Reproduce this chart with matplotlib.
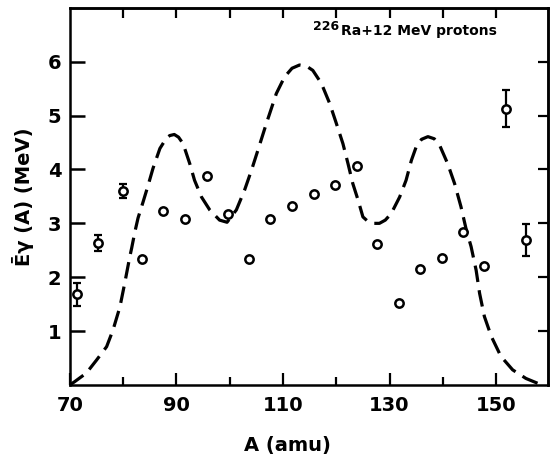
"""Mean gamma energy vs fragment mass, 226Ra + 12 MeV protons.
Points and curve read off the scanned figure."""
from matplotlib import pyplot as plt
from matplotlib.ticker import FixedLocator
import numpy as np

# measured points (open circles)
A_POINTS = [71.4, 75.3, 80.0, 83.6, 87.5, 91.6, 95.7, 99.6, 103.6, 107.5, 111.7,
            115.75, 119.8, 123.8, 127.6, 131.7, 135.75, 139.9, 143.75, 147.8,
            151.9, 155.7]
E_POINTS = [1.68, 2.64, 3.60, 2.33, 3.22, 3.09, 3.88, 3.18, 2.33, 3.09, 3.33,
            3.54, 3.72, 4.07, 2.62, 1.53, 2.15, 2.36, 2.84, 2.21, 5.13, 2.69]
E_ERR = [0.22, 0.15, 0.13, 0, 0, 0, 0, 0, 0, 0, 0,
         0, 0, 0, 0, 0, 0, 0, 0, 0, 0.35, 0.30]

# dashed calculated curve
CURVE_A = [70.0, 70.9, 73.1, 75.0, 76.9, 78.1, 79.4, 80.3, 81.25, 81.6, 82.2,
           82.8, 83.75, 84.7, 85.6, 86.9, 88.1, 88.75, 89.6, 90.4, 91.25, 92.5,
           93.4, 94.7, 96.25, 98.1, 99.5, 101.25, 102.8, 104.1, 105.3, 106.9,
           108.75, 110.3, 111.7, 113.1, 114.4, 115.6, 117.2, 118.75, 120.0,
           121.25, 122.2, 123.1, 124.1, 125.0, 126.0, 126.9, 128.1, 129.2,
           130.3, 131.9, 133.1, 134.1, 135.0, 136.0, 137.2, 138.4, 139.4,
           140.9, 142.2, 143.4, 144.4, 145.3, 146.25, 146.9, 147.8, 149.1,
           150.9, 153.1, 155.6, 157.8, 159.0]
CURVE_E = [0.0, 0.06, 0.22, 0.46, 0.71, 1.02, 1.45, 1.89, 2.38, 2.54, 2.84,
           3.10, 3.40, 3.71, 4.02, 4.39, 4.58, 4.63, 4.65, 4.60, 4.48, 4.11,
           3.80, 3.49, 3.25, 3.06, 3.02, 3.25, 3.62, 3.99, 4.36, 4.86,
           5.41, 5.72, 5.88, 5.94, 5.92, 5.84, 5.60, 5.23, 4.86,
           4.48, 4.11, 3.74, 3.43, 3.12, 3.03, 3.00, 3.00, 3.06,
           3.18, 3.49, 3.80, 4.17, 4.42, 4.56, 4.61, 4.57, 4.45,
           4.11, 3.74, 3.31, 2.88, 2.57, 2.13, 1.70, 1.27, 0.90,
           0.53, 0.28, 0.12, 0.03, 0.0]

X_MAJOR = [70, 90, 110, 130, 150]
X_MINOR = [80, 100, 120, 140]
X_TOP = [80, 90, 100, 110, 120, 130, 140, 150]
Y_TICKS = [1, 2, 3, 4, 5, 6]

fig = plt.figure(figsize=(5.5, 4.66), dpi=100)
ax = fig.add_axes([0.127, 0.174, 0.869, 0.809])

ax.plot(CURVE_A, CURVE_E, color='black', lw=2.3, dashes=(5.2, 2.6),
        dash_capstyle='butt')

err = np.array(E_ERR)
has_err = err > 0
a = np.array(A_POINTS)
e = np.array(E_POINTS)
ax.errorbar(a[has_err], e[has_err], yerr=err[has_err], fmt='none',
            ecolor='black', elinewidth=1.6, capsize=2.6, capthick=1.6)
ax.plot(a, e, 'o', ms=6, mfc='white', mec='black', mew=1.8, ls='none')

ax.set_xlim(70, 159.7)
ax.set_ylim(0, 7)
ax.xaxis.set_major_locator(FixedLocator(X_MAJOR))
ax.xaxis.set_minor_locator(FixedLocator(X_MINOR))
ax.yaxis.set_major_locator(FixedLocator(Y_TICKS))

for s in ax.spines.values():
    s.set_linewidth(1.8)

ax.tick_params(axis='x', which='major', direction='in', length=9, width=1.6,
               pad=8, labelsize=14)
ax.tick_params(axis='x', which='minor', direction='in', length=5.5, width=1.6)
ax.tick_params(axis='y', which='major', direction='in', length=11, width=1.8,
               pad=6, labelsize=14)
for lab in ax.get_xticklabels() + ax.get_yticklabels():
    lab.set_fontweight('bold')

# top and right ticks, shorter, no labels
top = ax.secondary_xaxis('top')
top.xaxis.set_major_locator(FixedLocator(X_TOP))
top.tick_params(direction='in', length=7, width=1.6, labeltop=False)
top.spines['top'].set_linewidth(1.8)
right = ax.secondary_yaxis('right')
right.yaxis.set_major_locator(FixedLocator(Y_TICKS))
right.tick_params(direction='in', length=7, width=1.6, labelright=False)
right.spines['right'].set_linewidth(1.8)

ax.set_xlabel('A (amu)', fontsize=14, fontweight='bold')
ax.xaxis.set_label_coords(0.455, -0.135)
ax.set_ylabel('Ēγ (A) (MeV)', fontsize=14, fontweight='bold', labelpad=10)

ax.text(0.508, 0.942, '226', transform=ax.transAxes, fontsize=9,
        fontweight='bold', ha='left', va='baseline')
ax.text(0.567, 0.929, 'Ra+12 MeV protons', transform=ax.transAxes,
        fontsize=10, fontweight='bold', ha='left', va='baseline')

fig.savefig('out.png', dpi=100)
